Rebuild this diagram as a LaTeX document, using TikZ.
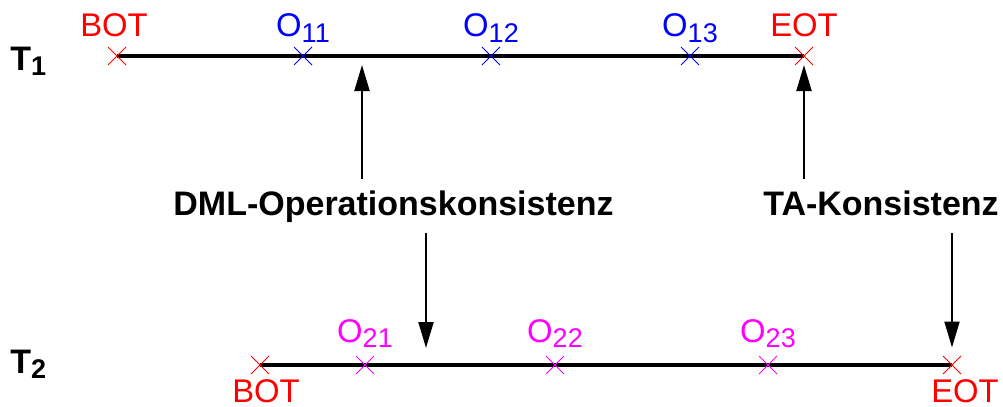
\documentclass[tikz,border=0pt]{standalone}
\usepackage{fontspec}
\setmainfont{Liberation Sans}
\usetikzlibrary{arrows.meta,positioning,shapes.misc,backgrounds}
\definecolor{botred}{HTML}{FF0000}
\definecolor{opblue}{HTML}{0000FF}
\definecolor{opmag}{HTML}{FF00FF}
\newcommand{\idx}[1]{\raisebox{-2.5pt}{\fontsize{13.5}{13.5}\selectfont #1}}
\tikzset{
  >={Triangle[length=13pt,width=7.5pt]},
  flow/.style={->,line width=1pt},
  txline/.style={line width=2pt},
  xmark/.style={cross out,draw,line width=0.5pt,minimum size=8.5pt,inner sep=0pt},
  redmark/.style={xmark,draw=botred},
  bluemark/.style={xmark,draw=opblue},
  magmark/.style={xmark,draw=opmag},
  lbl/.style={font=\fontsize{16.4}{19}\selectfont,inner sep=0pt},
  tname/.style={font=\fontsize{17}{20}\selectfont\bfseries,inner sep=0pt,anchor=base west},
  cons/.style={font=\fontsize{17}{20}\selectfont\bfseries,inner sep=5.5pt,anchor=base}
}
\begin{document}
\begin{tikzpicture}[x=0.5pt,y=-0.5pt]
  \useasboundingbox (0,0) rectangle (1003,407);
  % transaction T1
  \node[tname] (t1) at (10,70) {T\idx{1}};
  \node[redmark] (bot1) at (117,56) {};
  \node[bluemark] (o11) at (303,56) {};
  \node[bluemark] (o12) at (491,56) {};
  \node[bluemark] (o13) at (690,56) {};
  \node[redmark] (eot1) at (804,56) {};
  \node[lbl,text=botred,above=9.5pt of bot1.center,anchor=base,xshift=-1.5pt] (bot1l) {BOT};
  \node[lbl,text=opblue,above=9.5pt of o11.center,anchor=base] (o11l) {O\idx{11}};
  \node[lbl,text=opblue,above=9.5pt of o12.center,anchor=base] (o12l) {O\idx{12}};
  \node[lbl,text=opblue,above=9.5pt of o13.center,anchor=base] (o13l) {O\idx{13}};
  \node[lbl,text=botred,above=9.5pt of eot1.center,anchor=base] (eot1l) {EOT};

  % transaction T2
  \node[tname] (t2) at (10,373) {T\idx{2}};
  \node[redmark] (bot2) at (260,365) {};
  \node[magmark] (o21) at (365,365) {};
  \node[magmark] (o22) at (555,365) {};
  \node[magmark] (o23) at (768,365) {};
  \node[redmark] (eot2) at (952,365) {};
  \node[lbl,text=opmag,above=11.5pt of o21.center,anchor=base] (o21l) {O\idx{21}};
  \node[lbl,text=opmag,above=11.5pt of o22.center,anchor=base] (o22l) {O\idx{22}};
  \node[lbl,text=opmag,above=11.5pt of o23.center,anchor=base] (o23l) {O\idx{23}};
  \node[lbl,text=botred,below=18.5pt of bot2.center,anchor=base,xshift=3pt] (bot2l) {BOT};
  \node[lbl,text=botred,below=18.5pt of eot2.center,anchor=base,xshift=6.5pt] (eot2l) {EOT};

  \begin{scope}[on background layer]
    \draw[txline] (bot1.center) -- (eot1.center);
    \draw[txline] (bot2.center) -- (eot2.center);
  \end{scope}

  % consistency levels
  \node[cons] (dml) at (393.5,215) {DML-Operationskonsistenz};
  \node[cons] (ta) at (881,215) {TA-Konsistenz};
  \coordinate (hit1) at (362,56);
  \coordinate (hit2) at (426,365);
  \draw[flow,shorten >=4.5pt] (dml.north -| hit1) -- (hit1);
  \draw[flow] (dml.north -| eot1) -- (eot1);
  \draw[flow,shorten >=8.5pt] (dml.south -| hit2) -- (hit2);
  \draw[flow,shorten >=4.25pt] (dml.south -| eot2) -- (eot2);
\end{tikzpicture}
\end{document}
